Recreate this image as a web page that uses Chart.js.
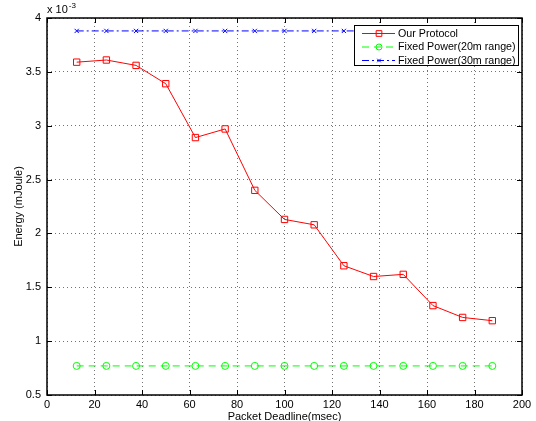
<!DOCTYPE html>
<html lang="en">
<head>
    <meta charset="UTF-8">
    <title>Energy vs Packet Deadline</title>
    <script src="https://cdn.jsdelivr.net/npm/chart.js"></script>
    <style>
        body { margin: 0; background: #fff; }
        .chart-container { width: 536px; height: 421px; }
    </style>
</head>
<body>
    <div class="chart-container">
        <canvas id="myChart"></canvas>
    </div>
    <script>
        // packet deadline (msec)
        const deadlines = [12.5, 25, 37.5, 50, 62.5, 75, 87.5, 100, 112.5, 125, 137.5, 150, 162.5, 175, 187.5];
        // energy, in units of 1e-3 mJoule
        const ourProtocol = [3.59, 3.61, 3.56, 3.39, 2.89, 2.97, 2.40, 2.13, 2.08, 1.70, 1.60, 1.62, 1.33, 1.22, 1.19];
        const fixed20 = [0.77, 0.77, 0.77, 0.77, 0.77, 0.77, 0.77, 0.77, 0.77, 0.77, 0.77, 0.77, 0.77, 0.77, 0.77];
        const fixed30 = [3.88, 3.88, 3.88, 3.88, 3.88, 3.88, 3.88, 3.88, 3.88, 3.88, 3.88, 3.88, 3.88, 3.88, 3.88];
        const seriesNames = ['Our Protocol', 'Fixed Power(20m range)', 'Fixed Power(30m range)'];

        const FONT = "'Liberation Sans', Arial, Helvetica, sans-serif";
        Chart.defaults.font.family = FONT;
        Chart.defaults.font.size = 11;
        Chart.defaults.color = '#000';

        function toPoints(ys) {
            return deadlines.map((x, i) => ({ x: x, y: ys[i] }));
        }

        const data = {
            datasets: [
                {
                    label: seriesNames[0],
                    data: toPoints(ourProtocol),
                    borderColor: '#ff0000',
                    borderWidth: 1,
                    pointStyle: 'rect',
                    pointRadius: 4.5,
                    pointBorderWidth: 1,
                    pointBorderColor: '#ff0000',
                    pointBackgroundColor: 'rgba(0,0,0,0)'
                },
                {
                    label: seriesNames[1],
                    data: toPoints(fixed20),
                    borderColor: '#00ff00',
                    borderWidth: 1,
                    borderDash: [7, 5],
                    pointStyle: 'circle',
                    pointRadius: 3.5,
                    pointBorderWidth: 1,
                    pointBorderColor: '#00ff00',
                    pointBackgroundColor: 'rgba(0,0,0,0)'
                },
                {
                    label: seriesNames[2],
                    data: toPoints(fixed30),
                    borderColor: '#0000ff',
                    borderWidth: 1,
                    borderDash: [7, 3, 2, 3],
                    pointStyle: 'crossRot',
                    pointRadius: 3,
                    pointBorderWidth: 1,
                    pointBorderColor: '#0000ff',
                    pointBackgroundColor: 'rgba(0,0,0,0)'
                }
            ]
        };

        // box frame, inward ticks, exponent, x title and legend, matlab style
        const matlabFrame = {
            id: 'matlabFrame',
            afterDraw(chart) {
                const ctx = chart.ctx;
                const a = chart.chartArea;
                const xs = chart.scales.x, ys = chart.scales.y;
                ctx.save();
                ctx.strokeStyle = '#000';
                ctx.lineWidth = 1;
                ctx.beginPath();
                xs.ticks.forEach(t => {
                    const px = Math.round(xs.getPixelForValue(t.value)) + 0.5;
                    ctx.moveTo(px, a.bottom); ctx.lineTo(px, a.bottom - 5);
                    ctx.moveTo(px, a.top); ctx.lineTo(px, a.top + 5);
                });
                ys.ticks.forEach(t => {
                    const py = Math.round(ys.getPixelForValue(t.value)) + 0.5;
                    ctx.moveTo(a.left, py); ctx.lineTo(a.left + 5, py);
                    ctx.moveTo(a.right, py); ctx.lineTo(a.right - 5, py);
                });
                ctx.stroke();
                ctx.lineWidth = 1.5;
                ctx.strokeRect(a.left, a.top, a.right - a.left, a.bottom - a.top);

                // exponent
                ctx.fillStyle = '#000';
                ctx.textBaseline = 'alphabetic';
                ctx.textAlign = 'left';
                ctx.font = '11px ' + FONT;
                ctx.fillText('x 10', a.left, a.top - 5);
                const w = ctx.measureText('x 10').width;
                ctx.font = '8px ' + FONT;
                ctx.fillText('-3', a.left + w + 1, a.top - 10);

                // x axis title (partly clipped by the bottom edge, as in the original)
                ctx.font = '11px ' + FONT;
                ctx.textAlign = 'center';
                ctx.textBaseline = 'middle';
                ctx.fillText('Packet Deadline(msec)', (a.left + a.right) / 2, 417);

                // legend
                const lx = 354, ly = 25, lw = 164, lh = 40;
                ctx.fillStyle = '#fff';
                ctx.fillRect(lx, ly, lw, lh);
                ctx.lineWidth = 1;
                ctx.strokeStyle = '#000';
                ctx.strokeRect(lx + 0.5, ly + 0.5, lw, lh);
                ctx.textAlign = 'left';
                chart.data.datasets.forEach((ds, i) => {
                    const y = ly + 8 + i * 13.5;
                    ctx.save();
                    ctx.strokeStyle = ds.borderColor;
                    ctx.lineWidth = 1;
                    ctx.setLineDash(ds.borderDash || []);
                    ctx.beginPath();
                    ctx.moveTo(lx + 8, y + 0.5);
                    ctx.lineTo(lx + 41, y + 0.5);
                    ctx.stroke();
                    ctx.setLineDash([]);
                    ctx.fillStyle = 'rgba(0,0,0,0)';
                    Chart.helpers.drawPoint(ctx, {
                        pointStyle: ds.pointStyle,
                        radius: ds.pointRadius - 0.5,
                        borderWidth: 1,
                        rotation: 0
                    }, lx + 25, y + 0.5);
                    ctx.restore();
                    ctx.fillStyle = '#000';
                    ctx.font = '10.7px ' + FONT;
                    ctx.textBaseline = 'middle';
                    ctx.fillText(ds.label, lx + 44, y + 1);
                });
                ctx.restore();
            }
        };

        const config = {
            type: 'line',
            data: data,
            options: {
                responsive: true,
                maintainAspectRatio: false,
                animation: false,
                layout: { padding: { top: 18, right: 14, left: 0, bottom: 0 } },
                plugins: {
                    legend: { display: false },
                    tooltip: { enabled: false }
                },
                scales: {
                    x: {
                        type: 'linear',
                        min: 0,
                        max: 200,
                        ticks: { stepSize: 20, padding: 3, maxRotation: 0 },
                        grid: { color: 'rgba(0,0,0,0.55)', drawTicks: false },
                        border: { display: false, dash: [1, 3] },
                        afterFit(scale) { scale.height = 26; }
                    },
                    y: {
                        min: 0.5,
                        max: 4,
                        ticks: {
                            stepSize: 0.5,
                            padding: 6,
                            callback: v => String(Math.round(v * 10) / 10)
                        },
                        grid: { color: 'rgba(0,0,0,0.55)', drawTicks: false },
                        border: { display: false, dash: [1, 3] },
                        title: { display: true, text: 'Energy (mJoule)', padding: { top: 12, bottom: 0 } },
                        afterFit(scale) { scale.width = 47; }
                    }
                }
            },
            plugins: [matlabFrame]
        };

        const myChart = new Chart(document.getElementById('myChart'), config);
    </script>
</body>
</html>
